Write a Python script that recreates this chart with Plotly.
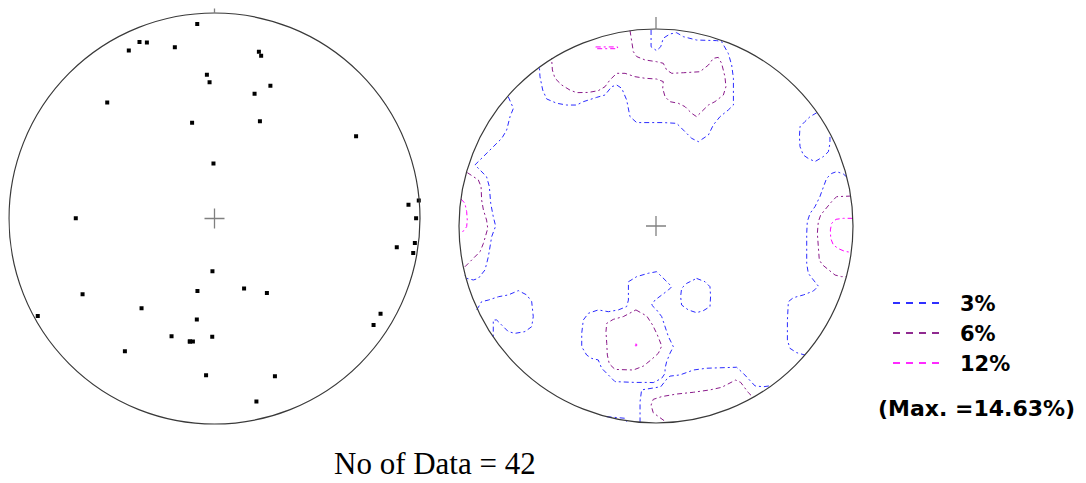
import plotly.graph_objects as go

# ---------------- DATA ----------------
# Poles plotted on the left net (x = east, y = north, in % of the net radius)
POLE_X = [-8.4, -36.5, -32.9, -41.7, -19.3, 21.6, 22.7, -3.7, -2.4, 27.2, 19.5, -52.2,
          -10.9, 22.1, 68.9, -0.5, 99.4, 94.4, 98.1, -67.5, 97.5, 88.7, 96.7, -1.0,
          14.4, -8.3, 25.5, -64.2, -35.5, -86.0, 80.8, 77.4, -8.6, -20.9, -1.1, -12.0,
          -10.5, -43.6, -4.1, 29.4, 20.4, -12.0]
POLE_Y = [94.6, 85.9, 85.7, 81.7, 83.3, 81.2, 79.2, 70.0, 66.3, 64.6, 60.7, 56.4,
          46.6, 47.3, 40.0, 26.8, 8.8, 6.7, 0.1, 0.1, -11.9, -14.0, -16.8, -25.7,
          -34.1, -35.3, -36.3, -36.9, -43.7, -47.4, -46.3, -51.8, -49.1, -57.3, -57.5, -59.9,
          -59.9, -64.6, -76.3, -76.8, -89.1, -59.9]

N_DATA = 42
LEVELS = ["3%", "6%", "12%"]
MAX_LABEL = "(Max. =14.63%)"

# Contour polylines on the right net (x = east, y = north, in % of the net radius)
C3_NORTH = [(-2.5, 99.5), (-2.5, 91.0), (0.3, 89.0), (2.4, 91.0), (3.7, 95.3), (7.1, 97.5),
            (10.5, 98.1), (13.9, 96.1), (20.6, 94.4), (30.8, 94.1), (33.3, 93.6), (36.7, 87.6),
            (38.4, 81.7), (39.3, 75.0), (39.3, 61.4), (36.7, 58.9), (32.5, 55.5), (29.1, 51.3),
            (26.6, 46.2), (21.5, 42.8), (18.1, 44.5), (13.9, 48.7), (10.5, 52.1), (3.7, 52.5),
            (-3.0, 52.5), (-9.8, 52.5), (-13.2, 55.5), (-14.9, 64.0), (-17.4, 69.9), (-20.0, 71.6),
            (-22.5, 70.7), (-25.9, 66.5), (-30.1, 65.3), (-36.9, 63.1), (-40.3, 61.4), (-45.3, 61.4),
            (-50.4, 62.3), (-55.5, 64.5), (-57.5, 69.0), (-58.9, 75.8), (-59.2, 80.9)]
C3_WEST = [(-75.0, 65.6), (-72.4, 59.7), (-74.1, 55.5), (-75.8, 48.7), (-78.3, 44.5), (-80.9, 42.0),
           (-85.1, 37.7), (-89.3, 33.5), (-91.9, 31.0), (-89.3, 28.4), (-86.0, 25.0), (-84.6, 20.0),
           (-83.9, 11.5), (-82.6, 4.7), (-81.4, 0.0), (-83.4, -5.4), (-84.3, -10.5), (-85.1, -15.6),
           (-86.8, -22.3), (-90.2, -26.6), (-92.7, -27.4), (-96.1, -26.6), (-97.0, -24.9)]
C3_SOUTHWEST = [(-91.0, -42.6), (-88.5, -38.4), (-85.1, -37.6), (-80.0, -35.9), (-75.0, -35.0),
                (-69.9, -32.8), (-65.6, -35.0), (-63.1, -38.4), (-62.3, -46.0), (-63.1, -51.1),
                (-66.5, -53.6), (-71.6, -54.5), (-75.0, -53.6), (-78.3, -50.3), (-80.9, -47.7),
                (-82.6, -47.7), (-82.6, -52.8), (-82.6, -56.2)]
C3_SOUTH_LOOP = [(-14.0, -28.3), (-9.8, -25.7), (-3.9, -24.0), (0.3, -23.2), (2.9, -25.7), (5.4, -28.3),
                 (8.0, -30.8), (6.3, -32.5), (2.9, -35.0), (-0.5, -37.6), (-2.2, -40.1), (0.3, -42.6),
                 (2.9, -46.0), (4.6, -51.1), (6.3, -56.2), (8.0, -59.6), (8.8, -61.3), (7.1, -64.6),
                 (5.4, -68.9), (4.6, -72.2), (4.6, -74.8), (2.9, -77.3), (-1.4, -79.5), (-3.9, -79.4),
                 (-10.7, -79.4), (-20.8, -79.0), (-24.2, -75.6), (-27.6, -72.2), (-29.3, -68.0),
                 (-32.7, -67.2), (-35.2, -65.5), (-37.7, -61.3), (-37.7, -54.5), (-36.9, -47.7),
                 (-34.3, -44.3), (-29.3, -42.6), (-24.2, -43.5), (-19.1, -42.6), (-14.9, -40.9),
                 (-14.0, -37.6), (-14.0, -28.3)]
C3_SOUTH = [(-8.1, -99.7), (-8.1, -89.2), (-7.3, -83.2), (-2.2, -82.4), (2.4, -81.6), (5.8, -77.3),
            (7.1, -76.2), (12.2, -75.6), (19.0, -73.1), (25.7, -72.2), (34.2, -71.9), (40.9, -71.7),
            (44.3, -74.8), (47.7, -78.2), (50.3, -81.2), (54.5, -81.6), (58.7, -81.0)]
C3_EAST = [(96.9, 24.8), (95.1, 26.4), (91.7, 27.6), (89.2, 26.7), (86.6, 24.2), (84.9, 20.0),
           (83.2, 14.9), (80.7, 9.8), (78.2, 6.4), (76.8, 2.2), (76.5, -3.7), (76.5, -19.0),
           (77.3, -24.0), (79.9, -27.4), (82.4, -30.5), (79.9, -33.0), (74.8, -35.0), (69.7, -36.4),
           (67.2, -38.4), (66.7, -47.7), (66.7, -57.9), (68.0, -62.1), (71.4, -64.3), (75.6, -65.5)]
C3_NORTHEAST = [(81.6, 57.5), (78.2, 55.5), (75.6, 53.0), (73.1, 50.4), (72.8, 45.3), (73.1, 40.3),
                (74.8, 36.0), (77.3, 34.3), (80.7, 32.7), (84.9, 35.2), (87.5, 37.7), (88.3, 42.0),
                (88.3, 46.2)]
C3_HEXAGON = [(20.6, -26.6), (24.9, -28.3), (27.4, -30.8), (27.7, -35.9), (27.4, -40.9), (24.0, -43.0),
              (20.6, -44.0), (16.4, -42.6), (13.0, -40.1), (12.5, -35.9), (13.0, -31.6), (15.6, -29.1),
              (20.6, -26.6)]
C3_RIM = [(-25.0, -96.8), (-20.8, -97.1), (-15.7, -97.6), (-14.9, -99.3)]

C6_NORTH = [(-13.2, 99.2), (-12.4, 94.4), (-11.5, 88.5), (-9.8, 86.0), (-5.6, 84.3), (0.3, 83.4),
            (3.7, 82.6), (5.4, 79.2), (8.0, 77.5), (13.9, 77.8), (22.3, 78.3), (26.6, 81.7),
            (29.1, 85.1), (31.6, 85.6), (33.3, 82.6), (35.0, 75.8), (35.5, 70.7), (34.2, 66.5),
            (29.9, 63.1), (26.6, 61.4), (24.0, 58.9), (20.6, 55.5), (18.1, 57.2), (14.7, 60.6),
            (11.3, 62.3), (7.1, 63.1), (4.6, 65.6), (3.4, 69.9), (3.7, 73.3), (0.3, 74.6),
            (-5.6, 75.0), (-10.7, 75.8), (-15.7, 77.5), (-20.0, 77.5), (-23.4, 74.1), (-25.9, 70.7),
            (-29.3, 68.7), (-34.3, 67.8), (-40.3, 67.7), (-43.7, 69.0), (-47.9, 71.6), (-51.3, 75.0),
            (-52.6, 79.2), (-53.0, 85.1)]
C6_WEST = [(-95.8, 27.1), (-92.7, 25.0), (-90.2, 23.4), (-88.8, 20.0), (-88.5, 13.2), (-87.6, 8.1),
           (-86.0, 3.0), (-85.4, -1.2), (-86.0, -3.7), (-87.6, -8.8), (-89.3, -13.0), (-91.9, -15.6),
           (-94.4, -18.1), (-97.8, -21.5)]
C6_EAST = [(99.0, 15.2), (95.1, 15.2), (91.7, 14.9), (89.2, 12.4), (86.6, 9.0), (83.6, 5.6),
           (82.4, 2.2), (81.9, -3.7), (82.4, -10.5), (82.9, -17.3), (84.6, -19.8), (87.5, -22.3),
           (90.9, -24.9), (94.2, -25.7), (96.8, -25.7)]
C6_SOUTH_LOOP = [(-10.2, -42.6), (-4.7, -45.7), (-1.7, -50.3), (0.7, -55.3), (2.9, -60.9), (1.2, -64.6),
                 (-2.2, -67.7), (-6.4, -71.1), (-11.5, -73.1), (-16.6, -73.1), (-20.8, -72.8),
                 (-23.7, -70.0), (-24.7, -65.5), (-25.0, -59.6), (-25.4, -53.6), (-25.0, -49.4),
                 (-21.7, -47.4), (-16.6, -46.0), (-12.4, -43.8), (-10.2, -42.6)]
C6_SOUTH = [(4.1, -98.8), (1.2, -96.8), (-1.4, -94.8), (-2.5, -90.9), (-1.4, -88.0), (2.9, -86.6),
            (10.5, -85.3), (19.0, -84.4), (27.4, -83.2), (33.3, -81.9), (37.6, -79.5), (40.4, -78.2),
            (43.0, -79.4), (44.7, -81.9), (46.9, -84.6), (49.4, -87.1)]

C12_NORTH = [(-30.6, 90.9), (-19.5, 90.9), (-19.5, 90.0), (-30.6, 90.0), (-30.6, 90.9)]
C12_WEST = [(-99.0, 13.7), (-97.0, 11.5), (-96.1, 7.3), (-95.8, 3.0), (-96.1, -0.3), (-97.5, -2.4),
            (-99.5, -3.4)]
C12_EAST = [(99.8, 3.9), (95.1, 3.9), (91.4, 3.4), (89.2, 1.4), (88.5, -2.0), (88.7, -6.3),
            (90.0, -9.6), (92.6, -11.5), (95.9, -12.9), (99.2, -13.4)]
C12_PEAK = [(-10.6, -60.0), (-9.8, -60.0), (-9.8, -60.8), (-10.6, -60.8), (-10.6, -60.0)]

CONTOURS = {
    "3%": [C3_NORTH, C3_WEST, C3_SOUTHWEST, C3_SOUTH_LOOP, C3_SOUTH, C3_EAST, C3_NORTHEAST,
           C3_HEXAGON, C3_RIM],
    "6%": [C6_NORTH, C6_WEST, C6_EAST, C6_SOUTH_LOOP, C6_SOUTH],
    "12%": [C12_NORTH, C12_WEST, C12_EAST, C12_PEAK],
}

# ---------------- STYLE / LAYOUT ----------------
PAGE_W, PAGE_H = 1086, 483      # browser window
BODY_MARGIN = 8                 # default page margin around the plot div
FW, FH = PAGE_W - BODY_MARGIN, PAGE_H - BODY_MARGIN

LEVEL_COLORS = {"3%": "#2b2bff", "6%": "#8a1a8a", "12%": "#ff00ff"}
LEGEND_COLORS = {"3%": "#3030ff", "6%": "#902a90", "12%": "#ff2aff"}
CONTOUR_DASH = "5px,3px,2px,3px"

# net placement on the page: (centre x px, centre y px, px per 100 units, x range, y range)
LEFT_NET = (214.5, 218.5, 205.5, [-100.4, 106], [-105, 102.2])
RIGHT_NET = (656.0, 226.0, 197.0, [-106, 106], [-106, 108])


def px_to_paper_x(px):
    return (px - BODY_MARGIN) / FW


def px_to_paper_y(py):
    return 1 - (py - BODY_MARGIN) / FH


def domains(net):
    cx, cy, r, xr, yr = net
    s = r / 100.0
    xd = [px_to_paper_x(cx + xr[0] * s), px_to_paper_x(cx + xr[1] * s)]
    yd = [px_to_paper_y(cy - yr[0] * s), px_to_paper_y(cy - yr[1] * s)]
    return xd, yd


fig = go.Figure()

# Left net: poles
fig.add_trace(go.Scatter(x=POLE_X, y=POLE_Y, mode="markers", xaxis="x", yaxis="y",
                         marker=dict(symbol="square", size=4, color="black", line=dict(width=0)),
                         hoverinfo="skip", showlegend=False))

# Right net: contours
for level in LEVELS:
    for line in CONTOURS[level]:
        fig.add_trace(go.Scatter(x=[p[0] for p in line], y=[p[1] for p in line], mode="lines",
                                 xaxis="x2", yaxis="y2",
                                 line=dict(color=LEVEL_COLORS[level], width=1, dash=CONTOUR_DASH),
                                 hoverinfo="skip", showlegend=False))

shapes = []
for xa, ya, net in (("x", "y", LEFT_NET), ("x2", "y2", RIGHT_NET)):
    r = net[2]
    cross = 10 / (r / 100.0)
    tick = (10 if xa == "x" else 12) / (r / 100.0)
    shapes.append(dict(type="circle", xref=xa, yref=ya, x0=-100, y0=-100, x1=100, y1=100,
                       line=dict(color="#3a3a3a", width=1.2)))
    shapes.append(dict(type="line", xref=xa, yref=ya, x0=-cross, x1=cross, y0=0, y1=0,
                       line=dict(color="#808080", width=1.3)))
    shapes.append(dict(type="line", xref=xa, yref=ya, x0=0, x1=0, y0=-cross, y1=cross,
                       line=dict(color="#808080", width=1.3)))
    shapes.append(dict(type="line", xref=xa, yref=ya, x0=0, x1=0, y0=100, y1=100 + tick,
                       line=dict(color="#808080", width=1.3)))

# Custom legend: dashed samples + labels
legend_y_px = [303, 333, 363]
for level, ypx in zip(LEVELS, legend_y_px):
    shapes.append(dict(type="line", xref="paper", yref="paper",
                       x0=px_to_paper_x(893), x1=px_to_paper_x(945),
                       y0=px_to_paper_y(ypx), y1=px_to_paper_y(ypx),
                       line=dict(color=LEGEND_COLORS[level], width=2, dash="7px,6px")))

legend_font = dict(family="DejaVu Sans", size=21, color="black", weight="bold")
annotations = []
for level, ypx in zip(LEVELS, legend_y_px):
    annotations.append(dict(text=f"<b>{level}</b>", xref="paper", yref="paper",
                            x=px_to_paper_x(958), y=px_to_paper_y(ypx + 1),
                            xanchor="left", yanchor="middle", showarrow=False,
                            font=legend_font))
annotations.append(dict(text=f"<b>{MAX_LABEL}</b>", xref="paper", yref="paper",
                        x=px_to_paper_x(976), y=px_to_paper_y(408),
                        xanchor="center", yanchor="middle", showarrow=False,
                        font=dict(family="DejaVu Sans", size=22, color="black", weight="bold")))
annotations.append(dict(text=f"No of Data = {N_DATA}", xref="paper", yref="paper",
                        x=px_to_paper_x(435), y=px_to_paper_y(463),
                        xanchor="center", yanchor="middle", showarrow=False,
                        font=dict(family="Liberation Serif", size=31, color="black")))

lxd, lyd = domains(LEFT_NET)
rxd, ryd = domains(RIGHT_NET)
axis_common = dict(visible=False, showgrid=False, zeroline=False, fixedrange=True)

fig.update_layout(
    width=FW, height=FH, autosize=False,
    margin=dict(l=0, r=0, t=0, b=0),
    paper_bgcolor="white", plot_bgcolor="rgba(0,0,0,0)",
    xaxis=dict(domain=lxd, range=LEFT_NET[3], **axis_common),
    yaxis=dict(domain=lyd, range=LEFT_NET[4], **axis_common),
    xaxis2=dict(domain=rxd, range=RIGHT_NET[3], anchor="y2", **axis_common),
    yaxis2=dict(domain=ryd, range=RIGHT_NET[4], anchor="x2", **axis_common),
    shapes=shapes,
    annotations=annotations,
    showlegend=False,
)

fig.write_html("out.html")
